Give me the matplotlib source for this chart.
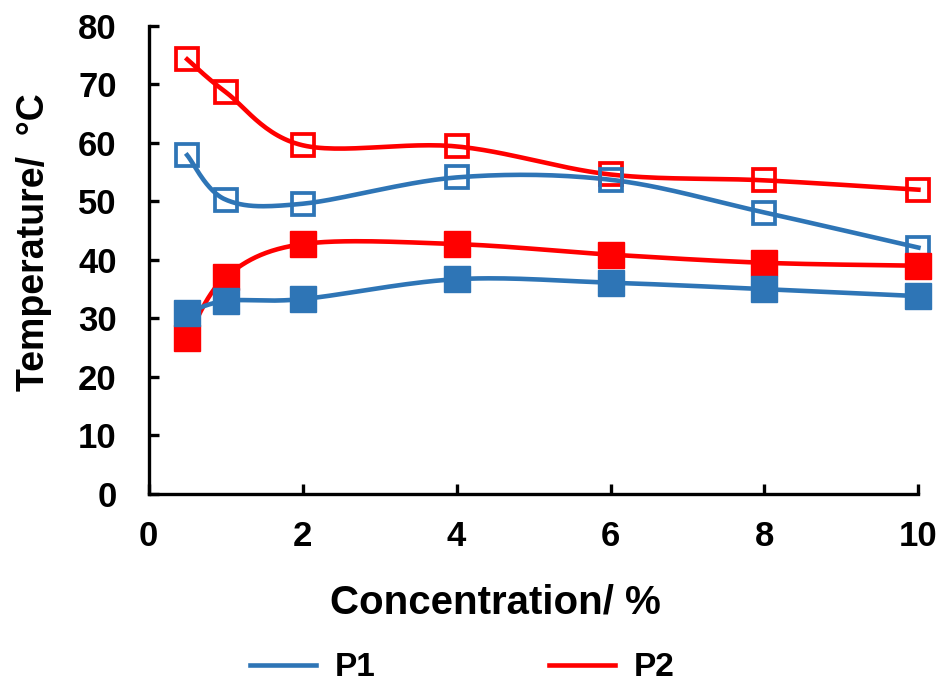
import numpy as np
import matplotlib
matplotlib.use("Agg")
import matplotlib.pyplot as plt
from matplotlib.lines import Line2D

# values
conc = [0.5, 1, 2, 4, 6, 8, 10]
p1_open = [57.9, 50.3, 49.6, 54.1, 53.7, 48.1, 42.1]
p1_filled = [30.9, 33.0, 33.3, 36.7, 36.1, 35.0, 33.8]
p2_open = [74.3, 68.7, 59.6, 59.4, 54.6, 53.6, 52.0]
p2_filled = [26.6, 37.1, 42.7, 42.7, 40.9, 39.5, 39.0]

BLUE = "#2E75B6"
RED = "#FF0000"


def smooth(x, y, n=30):
    """Excel-like smoothed line: cubic Bezier with Catmull-Rom control points."""
    x = np.asarray(x, float)
    y = np.asarray(y, float)
    pts = np.column_stack([x, y])
    out = [pts[0]]
    t = np.linspace(0, 1, n)[1:]
    for i in range(len(pts) - 1):
        p0 = pts[i - 1] if i > 0 else pts[i]
        p1 = pts[i]
        p2 = pts[i + 1]
        p3 = pts[i + 2] if i + 2 < len(pts) else pts[i + 1]
        c1 = p1 + (p2 - p0) / 6
        c2 = p2 - (p3 - p1) / 6
        seg = ((1 - t) ** 3)[:, None] * p1 + (3 * (1 - t) ** 2 * t)[:, None] * c1 \
            + (3 * (1 - t) * t ** 2)[:, None] * c2 + (t ** 3)[:, None] * p2
        out.extend(seg)
    out = np.array(out)
    return out[:, 0], out[:, 1]


plt.rcParams['font.family'] = ['Liberation Sans', 'DejaVu Sans']
plt.rcParams['font.weight'] = 'bold'

fig = plt.figure(figsize=(9.41, 6.83), dpi=100)
ax = fig.add_axes([0.158, 0.277, 0.818, 0.685])

series = [
    (p2_open, RED, False),
    (p1_open, BLUE, False),
    (p2_filled, RED, True),
    (p1_filled, BLUE, True),
]
for vals, col, filled in series:
    sx, sy = smooth(conc, vals)
    ax.plot(sx, sy, color=col, lw=3.3, zorder=2, clip_on=False)
    if filled:
        ax.plot(conc, vals, ls='none', marker='s', ms=19, mfc=col, mec=col,
                mew=1, zorder=3, clip_on=False)
    else:
        ax.plot(conc, vals, ls='none', marker='s', ms=15.5, mfc='none', mec=col,
                mew=2.7, zorder=3, clip_on=False)

ax.set_xlim(0, 10)
ax.set_ylim(0, 80)
ax.set_xticks(range(0, 11, 2))
ax.set_yticks(range(0, 81, 10))
for s in ['top', 'right']:
    ax.spines[s].set_visible(False)
for s in ['left', 'bottom']:
    ax.spines[s].set_linewidth(2.4)
ax.tick_params(direction='in', width=2.4, length=7, labelsize=25)
ax.tick_params(axis='x', pad=19)
ax.tick_params(axis='y', pad=23)
for lab in ax.get_xticklabels() + ax.get_yticklabels():
    lab.set_fontweight('bold')

fig.text(0.526, 0.118, 'Concentration/ %', fontsize=29, fontweight='bold',
         ha='center', va='center')
fig.text(0.036, 0.645, 'Temperature/  \u00b0C', fontsize=27, fontweight='bold',
         ha='center', va='center', rotation=90)

handles = [Line2D([], [], color=BLUE, lw=3.3), Line2D([], [], color=RED, lw=3.3)]
fig.legend(handles, ['P1', 'P2'], loc='center', ncol=2, frameon=False,
           bbox_to_anchor=(0.491, 0.022), handlelength=2.0, handletextpad=0.55,
           columnspacing=5.2, prop={'weight': 'bold', 'size': 24})

fig.savefig('out.png', dpi=100)
